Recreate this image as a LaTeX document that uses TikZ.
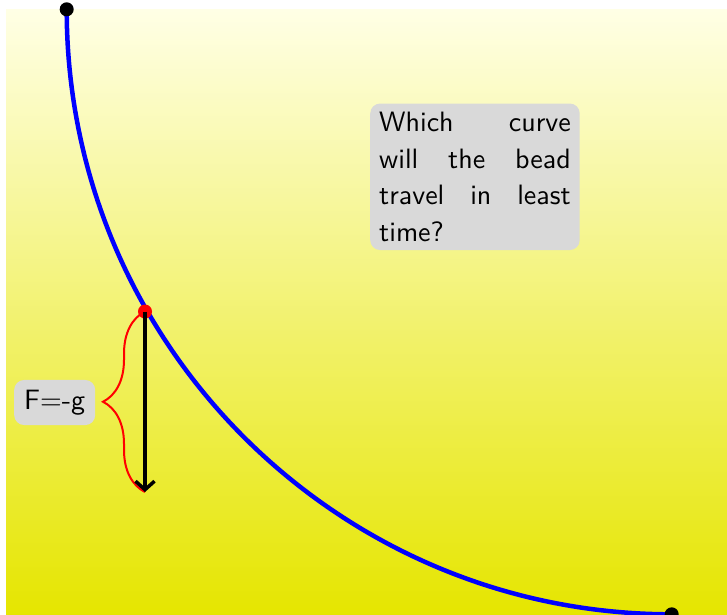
\documentclass[tikz,border=0pt]{standalone}
\usetikzlibrary{arrows.meta,decorations.pathreplacing}
\begin{document}
\begin{tikzpicture}[x=1pt,y=-1pt,
  dot/.style={circle,fill=#1,inner sep=0pt,minimum size=14pt},
  graybox/.style={fill=gray!30,rounded corners=10pt,
    font=\sffamily\fontsize{10}{13.1}\selectfont},
  curveline/.style={blue,line width=4.5pt},
  force/.style={line width=3.5pt,-{Straight Barb[length=8.5pt,width=19pt]}},
  bracestyle/.style={red,line width=2pt,decorate,decoration={brace,amplitude=42pt}}
]
\useasboundingbox (0,0) rectangle (727,614);
\shade[top color=yellow!10, bottom color=yellow!90!black] (6,9.3) rectangle (727,614);
% curve
\coordinate (start) at (66.7,9.3);
\draw[curveline] (start) arc[start angle=180,end angle=90,radius=605] coordinate (finish);
\node[dot=black] (topdot) at (start) {};
\node[dot=black] (botdot) at (finish) {};
\node[dot=red] (bead) at (145,311.5) {};
\coordinate (foot) at (145,492);
% brace and force
\draw[bracestyle] (foot) -- (bead.center);
\draw[force] (bead.center) -- (foot);
\node[graybox,inner sep=10pt] (flabel) at (54.7,402.5) {\scalebox{2.8}{F=-g}};
\node[graybox,anchor=north west,inner xsep=9pt,inner ysep=8.4pt]
  (question) at (370,103.3) {\scalebox{2.8}{\parbox{68.4pt}{Which curve\linebreak will the bead\linebreak travel in least\linebreak time?}}};
\end{tikzpicture}
\end{document}
